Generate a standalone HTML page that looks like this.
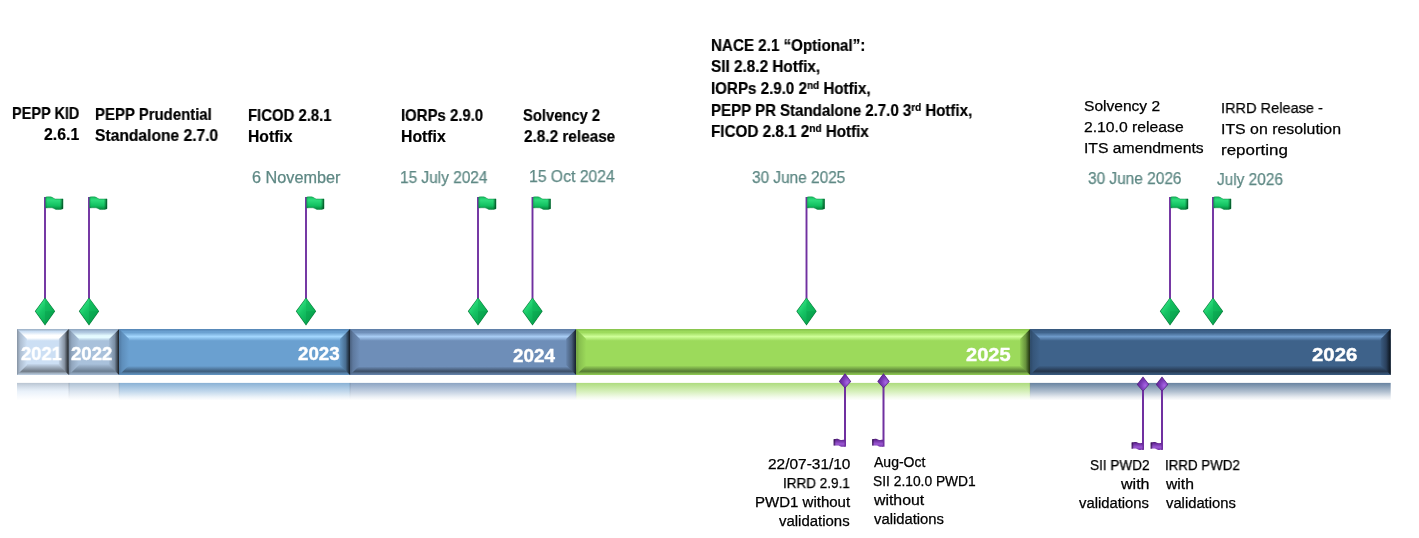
<!DOCTYPE html>
<html><head><meta charset="utf-8"><title>Timeline</title>
<style>
html,body{margin:0;padding:0;background:#fff;}
body{width:1419px;height:538px;position:relative;overflow:hidden;font-family:"Liberation Sans",sans-serif;}
.t{position:absolute;line-height:20px;white-space:nowrap;color:#000;transform-origin:0 0;will-change:transform;}
sup{font-size:0.66em;vertical-align:0.5em;line-height:0}
</style></head><body>
<svg width="1419" height="538" viewBox="0 0 1419 538" style="position:absolute;left:0;top:0">
<defs><linearGradient id="gsep" x1="0" y1="0" x2="0" y2="1"><stop offset="0" stop-color="#203040" stop-opacity="0.12"/><stop offset="1" stop-color="#203040" stop-opacity="0"/></linearGradient><linearGradient id="gv0" x1="0" y1="329.0" x2="0" y2="375.0" gradientUnits="userSpaceOnUse">
<stop offset="0" stop-color="#9AAEC4"/><stop offset="0.0261" stop-color="#AEC2D7"/><stop offset="0.0543" stop-color="#CCDFF4"/><stop offset="0.0587" stop-color="#CCDFF4"/><stop offset="0.1348" stop-color="#FFFFFF"/><stop offset="0.1957" stop-color="#FFFFFF"/><stop offset="0.2565" stop-color="#CCDFF4"/><stop offset="0.7500" stop-color="#CCDFF4"/><stop offset="0.9196" stop-color="#707A86"/><stop offset="0.9674" stop-color="#A5B5C6"/><stop offset="1" stop-color="#BFD1E5"/></linearGradient><linearGradient id="gl0" x1="17.0" y1="0" x2="27.0" y2="0" gradientUnits="userSpaceOnUse">
<stop offset="0" stop-color="#8592A2"/><stop offset="0.3" stop-color="#ACBCCF"/><stop offset="1" stop-color="#CCDFF4"/></linearGradient><linearGradient id="gr0" x1="58.900000000000006" y1="0" x2="68.9" y2="0" gradientUnits="userSpaceOnUse">
<stop offset="0" stop-color="#BED0E4"/><stop offset="0.55" stop-color="#8793A2"/><stop offset="0.85" stop-color="#3A4047"/><stop offset="1" stop-color="#16191D"/></linearGradient><linearGradient id="gf0" x1="0" y1="382.9" x2="0" y2="400.5" gradientUnits="userSpaceOnUse">
<stop offset="0" stop-color="#A3B2C3" stop-opacity="0.77"/><stop offset="0.5" stop-color="#CCDFF4" stop-opacity="0.4"/><stop offset="0.8" stop-color="#CCDFF4" stop-opacity="0.13"/><stop offset="1" stop-color="#CCDFF4" stop-opacity="0"/></linearGradient><linearGradient id="gv1" x1="0" y1="329.0" x2="0" y2="375.0" gradientUnits="userSpaceOnUse">
<stop offset="0" stop-color="#8CA4BE"/><stop offset="0.0261" stop-color="#98B0CA"/><stop offset="0.0543" stop-color="#A9C1DB"/><stop offset="0.0641" stop-color="#A9C1DB"/><stop offset="0.1457" stop-color="#E4FAFF"/><stop offset="0.1848" stop-color="#E4FAFF"/><stop offset="0.2565" stop-color="#A9C1DB"/><stop offset="0.7609" stop-color="#A9C1DB"/><stop offset="0.9196" stop-color="#6B7D91"/><stop offset="0.9674" stop-color="#8FA4BC"/><stop offset="1" stop-color="#A0B7D1"/></linearGradient><linearGradient id="gl1" x1="68.9" y1="0" x2="78.9" y2="0" gradientUnits="userSpaceOnUse">
<stop offset="0" stop-color="#75879C"/><stop offset="0.3" stop-color="#92A7BF"/><stop offset="1" stop-color="#A9C1DB"/></linearGradient><linearGradient id="gr1" x1="109.1" y1="0" x2="119.1" y2="0" gradientUnits="userSpaceOnUse">
<stop offset="0" stop-color="#A0B7D0"/><stop offset="0.55" stop-color="#7A8EA4"/><stop offset="0.85" stop-color="#38414B"/><stop offset="1" stop-color="#16191D"/></linearGradient><linearGradient id="gf1" x1="0" y1="382.9" x2="0" y2="400.5" gradientUnits="userSpaceOnUse">
<stop offset="0" stop-color="#96ADC5" stop-opacity="0.77"/><stop offset="0.5" stop-color="#A9C1DB" stop-opacity="0.4"/><stop offset="0.8" stop-color="#A9C1DB" stop-opacity="0.13"/><stop offset="1" stop-color="#A9C1DB" stop-opacity="0"/></linearGradient><linearGradient id="gv2" x1="0" y1="329.0" x2="0" y2="375.0" gradientUnits="userSpaceOnUse">
<stop offset="0" stop-color="#5585B5"/><stop offset="0.0261" stop-color="#5D90C0"/><stop offset="0.0543" stop-color="#6AA0D0"/><stop offset="0.0739" stop-color="#6AA0D0"/><stop offset="0.1652" stop-color="#A4D8FF"/><stop offset="0.1652" stop-color="#A4D8FF"/><stop offset="0.2565" stop-color="#6AA0D0"/><stop offset="0.8043" stop-color="#6AA0D0"/><stop offset="0.9196" stop-color="#3E5D7C"/><stop offset="0.9674" stop-color="#5884AD"/><stop offset="1" stop-color="#6497C4"/></linearGradient><linearGradient id="gl2" x1="119.1" y1="0" x2="129.1" y2="0" gradientUnits="userSpaceOnUse">
<stop offset="0" stop-color="#4F79A2"/><stop offset="0.3" stop-color="#5E8EBB"/><stop offset="1" stop-color="#6AA0D0"/></linearGradient><linearGradient id="gr2" x1="340.0" y1="0" x2="350.0" y2="0" gradientUnits="userSpaceOnUse">
<stop offset="0" stop-color="#6396C3"/><stop offset="0.55" stop-color="#496E91"/><stop offset="0.85" stop-color="#253648"/><stop offset="1" stop-color="#141C26"/></linearGradient><linearGradient id="gf2" x1="0" y1="382.9" x2="0" y2="400.5" gradientUnits="userSpaceOnUse">
<stop offset="0" stop-color="#6699C8" stop-opacity="0.77"/><stop offset="0.5" stop-color="#6AA0D0" stop-opacity="0.4"/><stop offset="0.8" stop-color="#6AA0D0" stop-opacity="0.13"/><stop offset="1" stop-color="#6AA0D0" stop-opacity="0"/></linearGradient><linearGradient id="gv3" x1="0" y1="329.0" x2="0" y2="375.0" gradientUnits="userSpaceOnUse">
<stop offset="0" stop-color="#5E7DA6"/><stop offset="0.0261" stop-color="#6484AD"/><stop offset="0.0543" stop-color="#6E8EB8"/><stop offset="0.0739" stop-color="#6E8EB8"/><stop offset="0.1652" stop-color="#A9CDF5"/><stop offset="0.1652" stop-color="#A9CDF5"/><stop offset="0.2565" stop-color="#6E8EB8"/><stop offset="0.8152" stop-color="#6E8EB8"/><stop offset="0.9196" stop-color="#3C4E66"/><stop offset="0.9674" stop-color="#597396"/><stop offset="1" stop-color="#6785AD"/></linearGradient><linearGradient id="gl3" x1="350.0" y1="0" x2="360.0" y2="0" gradientUnits="userSpaceOnUse">
<stop offset="0" stop-color="#4A607E"/><stop offset="0.3" stop-color="#5E799E"/><stop offset="1" stop-color="#6E8EB8"/></linearGradient><linearGradient id="gr3" x1="566.2" y1="0" x2="576.2" y2="0" gradientUnits="userSpaceOnUse">
<stop offset="0" stop-color="#6684AC"/><stop offset="0.55" stop-color="#485E7A"/><stop offset="0.85" stop-color="#243041"/><stop offset="1" stop-color="#141C28"/></linearGradient><linearGradient id="gf3" x1="0" y1="382.9" x2="0" y2="400.5" gradientUnits="userSpaceOnUse">
<stop offset="0" stop-color="#6988B0" stop-opacity="0.77"/><stop offset="0.5" stop-color="#6E8EB8" stop-opacity="0.4"/><stop offset="0.8" stop-color="#6E8EB8" stop-opacity="0.13"/><stop offset="1" stop-color="#6E8EB8" stop-opacity="0"/></linearGradient><linearGradient id="gv4" x1="0" y1="329.0" x2="0" y2="375.0" gradientUnits="userSpaceOnUse">
<stop offset="0" stop-color="#86C24C"/><stop offset="0.0261" stop-color="#8FCC52"/><stop offset="0.0543" stop-color="#9CDA5B"/><stop offset="0.0739" stop-color="#9CDA5B"/><stop offset="0.1652" stop-color="#CFFF98"/><stop offset="0.1652" stop-color="#CFFF98"/><stop offset="0.2565" stop-color="#9CDA5B"/><stop offset="0.7935" stop-color="#9CDA5B"/><stop offset="0.9196" stop-color="#557A33"/><stop offset="0.9674" stop-color="#7EB24A"/><stop offset="1" stop-color="#92CD55"/></linearGradient><linearGradient id="gl4" x1="576.2" y1="0" x2="586.2" y2="0" gradientUnits="userSpaceOnUse">
<stop offset="0" stop-color="#6E9E3E"/><stop offset="0.3" stop-color="#87BF4E"/><stop offset="1" stop-color="#9CDA5B"/></linearGradient><linearGradient id="gr4" x1="1020.0999999999999" y1="0" x2="1030.1" y2="0" gradientUnits="userSpaceOnUse">
<stop offset="0" stop-color="#91CC55"/><stop offset="0.55" stop-color="#67923D"/><stop offset="0.85" stop-color="#344E1E"/><stop offset="1" stop-color="#1E3010"/></linearGradient><linearGradient id="gf4" x1="0" y1="382.9" x2="0" y2="400.5" gradientUnits="userSpaceOnUse">
<stop offset="0" stop-color="#95D057" stop-opacity="0.77"/><stop offset="0.5" stop-color="#9CDA5B" stop-opacity="0.4"/><stop offset="0.8" stop-color="#9CDA5B" stop-opacity="0.13"/><stop offset="1" stop-color="#9CDA5B" stop-opacity="0"/></linearGradient><linearGradient id="gv5" x1="0" y1="329.0" x2="0" y2="375.0" gradientUnits="userSpaceOnUse">
<stop offset="0" stop-color="#36577C"/><stop offset="0.0261" stop-color="#395B82"/><stop offset="0.0543" stop-color="#3E628A"/><stop offset="0.0739" stop-color="#3E628A"/><stop offset="0.1652" stop-color="#6E9ACA"/><stop offset="0.1652" stop-color="#6E9ACA"/><stop offset="0.2565" stop-color="#3E628A"/><stop offset="0.7935" stop-color="#3E628A"/><stop offset="0.9196" stop-color="#24354C"/><stop offset="0.9674" stop-color="#334F70"/><stop offset="1" stop-color="#3A5C81"/></linearGradient><linearGradient id="gl5" x1="1030.1" y1="0" x2="1040.1" y2="0" gradientUnits="userSpaceOnUse">
<stop offset="0" stop-color="#2C4866"/><stop offset="0.3" stop-color="#36567A"/><stop offset="1" stop-color="#3E628A"/></linearGradient><linearGradient id="gr5" x1="1380.7" y1="0" x2="1390.7" y2="0" gradientUnits="userSpaceOnUse">
<stop offset="0" stop-color="#3A5B81"/><stop offset="0.55" stop-color="#2A405C"/><stop offset="0.85" stop-color="#14202F"/><stop offset="1" stop-color="#0A121C"/></linearGradient><linearGradient id="gf5" x1="0" y1="382.9" x2="0" y2="400.5" gradientUnits="userSpaceOnUse">
<stop offset="0" stop-color="#3B5E84" stop-opacity="0.77"/><stop offset="0.5" stop-color="#3E628A" stop-opacity="0.4"/><stop offset="0.8" stop-color="#3E628A" stop-opacity="0.13"/><stop offset="1" stop-color="#3E628A" stop-opacity="0"/></linearGradient><linearGradient id="flagG" x1="0" y1="0" x2="0" y2="1">
<stop offset="0" stop-color="#18C060"/><stop offset="0.25" stop-color="#2EDC7C"/><stop offset="0.7" stop-color="#12C060"/><stop offset="1" stop-color="#06803A"/></linearGradient><linearGradient id="flagGe" x1="0" y1="0" x2="1" y2="0">
<stop offset="0" stop-color="#004A20" stop-opacity="0.15"/><stop offset="0.12" stop-color="#004A20" stop-opacity="0"/><stop offset="0.82" stop-color="#004A20" stop-opacity="0"/><stop offset="1" stop-color="#003A18" stop-opacity="0.8"/></linearGradient><linearGradient id="flagP" x1="0" y1="0" x2="0" y2="1">
<stop offset="0" stop-color="#7434A8"/><stop offset="0.35" stop-color="#9C58D4"/><stop offset="0.8" stop-color="#6A2C9C"/><stop offset="1" stop-color="#4A1870"/></linearGradient><linearGradient id="flagPe" x1="0" y1="0" x2="1" y2="0">
<stop offset="0" stop-color="#1E0830" stop-opacity="0.1"/><stop offset="0.1" stop-color="#1E0830" stop-opacity="0"/><stop offset="0.8" stop-color="#1E0830" stop-opacity="0"/><stop offset="1" stop-color="#1E0830" stop-opacity="0.85"/></linearGradient><linearGradient id="dmG" x1="0.2" y1="0.2" x2="0.8" y2="0.85">
<stop offset="0" stop-color="#2EE07E"/><stop offset="0.35" stop-color="#16C464"/><stop offset="0.7" stop-color="#0EB258"/><stop offset="1" stop-color="#08A04A"/></linearGradient><radialGradient id="dmP" cx="0.7" cy="0.62" r="0.6">
<stop offset="0" stop-color="#A866E6"/><stop offset="0.6" stop-color="#7C3CB8"/><stop offset="1" stop-color="#6A2CA0"/></radialGradient><linearGradient id="rfg" x1="0" y1="382.9" x2="0" y2="400.5" gradientUnits="userSpaceOnUse"><stop offset="0" stop-color="#fff" stop-opacity="0.62"/><stop offset="0.5" stop-color="#fff" stop-opacity="0.3"/><stop offset="1" stop-color="#fff" stop-opacity="0"/></linearGradient>
<mask id="rfm" maskUnits="userSpaceOnUse" x="0" y="382" width="1419" height="20"><rect x="0" y="382.6" width="1419" height="18.4" fill="url(#rfg)"/></mask></defs>
<rect x="17.0" y="382.9" width="51.9" height="17.6" fill="url(#gf0)"/><rect x="68.9" y="382.9" width="50.2" height="17.6" fill="url(#gf1)"/><rect x="68.1" y="382.9" width="1.6" height="16" fill="url(#gsep)"/><rect x="119.1" y="382.9" width="230.9" height="17.6" fill="url(#gf2)"/><rect x="118.3" y="382.9" width="1.6" height="16" fill="url(#gsep)"/><rect x="350.0" y="382.9" width="226.2" height="17.6" fill="url(#gf3)"/><rect x="349.2" y="382.9" width="1.6" height="16" fill="url(#gsep)"/><rect x="576.2" y="382.9" width="453.9" height="17.6" fill="url(#gf4)"/><rect x="575.4" y="382.9" width="1.6" height="16" fill="url(#gsep)"/><rect x="1030.1" y="382.9" width="360.6" height="17.6" fill="url(#gf5)"/><rect x="1029.3" y="382.9" width="1.6" height="16" fill="url(#gsep)"/>
<rect x="17.0" y="329.0" width="51.9" height="46.0" fill="url(#gv0)"/><polygon points="17.0,329.0 27,339.0 27,365.0 17.0,375.0" fill="url(#gl0)"/><polygon points="68.9,329.0 58.9,339.0 58.9,365.0 68.9,375.0" fill="url(#gr0)"/><rect x="68.9" y="329.0" width="50.2" height="46.0" fill="url(#gv1)"/><polygon points="68.9,329.0 78.9,339.0 78.9,365.0 68.9,375.0" fill="url(#gl1)"/><polygon points="119.1,329.0 109.1,339.0 109.1,365.0 119.1,375.0" fill="url(#gr1)"/><rect x="119.1" y="329.0" width="230.9" height="46.0" fill="url(#gv2)"/><polygon points="119.1,329.0 129.1,339.0 129.1,365.0 119.1,375.0" fill="url(#gl2)"/><polygon points="350.0,329.0 340,339.0 340,365.0 350.0,375.0" fill="url(#gr2)"/><rect x="350.0" y="329.0" width="226.2" height="46.0" fill="url(#gv3)"/><polygon points="350.0,329.0 360,339.0 360,365.0 350.0,375.0" fill="url(#gl3)"/><polygon points="576.2,329.0 566.2,339.0 566.2,365.0 576.2,375.0" fill="url(#gr3)"/><rect x="576.2" y="329.0" width="453.9" height="46.0" fill="url(#gv4)"/><polygon points="576.2,329.0 586.2,339.0 586.2,365.0 576.2,375.0" fill="url(#gl4)"/><polygon points="1030.1,329.0 1020.1,339.0 1020.1,365.0 1030.1,375.0" fill="url(#gr4)"/><rect x="1030.1" y="329.0" width="360.6" height="46.0" fill="url(#gv5)"/><polygon points="1030.1,329.0 1040.1,339.0 1040.1,365.0 1030.1,375.0" fill="url(#gl5)"/><polygon points="1390.7,329.0 1380.7,339.0 1380.7,365.0 1390.7,375.0" fill="url(#gr5)"/>
<rect x="44.05" y="197" width="1.9" height="102" fill="#7030A0"/><g transform="translate(44.9,197)"><path d="M0.8,0.1 C3,-0.2 5.8,-0.3 7.2,0.3 C8.5,0.9 9,1.8 10.4,2 C13,2.2 15.5,2.0 18.1,1.9 L18.1,11.7 C16,12.5 13,12.8 11,12.4 C9.3,12 8.8,10.9 7,10.8 C5,10.6 3,10.8 0.8,10.9 Z" fill="url(#flagG)" stroke="#0A8A44" stroke-width="0.5"/><path d="M0.8,0.1 C3,-0.2 5.8,-0.3 7.2,0.3 C8.5,0.9 9,1.8 10.4,2 C13,2.2 15.5,2.0 18.1,1.9 L18.1,11.7 C16,12.5 13,12.8 11,12.4 C9.3,12 8.8,10.9 7,10.8 C5,10.6 3,10.8 0.8,10.9 Z" fill="url(#flagGe)"/></g><polygon points="45,297.5 55.15,311.3 45,325.4 34.85,311.3" fill="#067A38"/><polygon points="45,298.3 54.35,311.3 45,324.6 35.65,311.3" fill="url(#dmG)"/><polygon points="45,298.3 54.35,311.3 45,311.3" fill="#0EB458" fill-opacity="0.55"/><polygon points="45,324.6 54.35,311.3 45,311.3" fill="#08A04C" fill-opacity="0.5"/><rect x="88.05" y="197" width="1.9" height="102" fill="#7030A0"/><g transform="translate(88.9,197)"><path d="M0.8,0.1 C3,-0.2 5.8,-0.3 7.2,0.3 C8.5,0.9 9,1.8 10.4,2 C13,2.2 15.5,2.0 18.1,1.9 L18.1,11.7 C16,12.5 13,12.8 11,12.4 C9.3,12 8.8,10.9 7,10.8 C5,10.6 3,10.8 0.8,10.9 Z" fill="url(#flagG)" stroke="#0A8A44" stroke-width="0.5"/><path d="M0.8,0.1 C3,-0.2 5.8,-0.3 7.2,0.3 C8.5,0.9 9,1.8 10.4,2 C13,2.2 15.5,2.0 18.1,1.9 L18.1,11.7 C16,12.5 13,12.8 11,12.4 C9.3,12 8.8,10.9 7,10.8 C5,10.6 3,10.8 0.8,10.9 Z" fill="url(#flagGe)"/></g><polygon points="89,297.5 99.15,311.3 89,325.4 78.85,311.3" fill="#067A38"/><polygon points="89,298.3 98.35,311.3 89,324.6 79.65,311.3" fill="url(#dmG)"/><polygon points="89,298.3 98.35,311.3 89,311.3" fill="#0EB458" fill-opacity="0.55"/><polygon points="89,324.6 98.35,311.3 89,311.3" fill="#08A04C" fill-opacity="0.5"/><rect x="305.05" y="197" width="1.9" height="102" fill="#7030A0"/><g transform="translate(305.9,197)"><path d="M0.8,0.1 C3,-0.2 5.8,-0.3 7.2,0.3 C8.5,0.9 9,1.8 10.4,2 C13,2.2 15.5,2.0 18.1,1.9 L18.1,11.7 C16,12.5 13,12.8 11,12.4 C9.3,12 8.8,10.9 7,10.8 C5,10.6 3,10.8 0.8,10.9 Z" fill="url(#flagG)" stroke="#0A8A44" stroke-width="0.5"/><path d="M0.8,0.1 C3,-0.2 5.8,-0.3 7.2,0.3 C8.5,0.9 9,1.8 10.4,2 C13,2.2 15.5,2.0 18.1,1.9 L18.1,11.7 C16,12.5 13,12.8 11,12.4 C9.3,12 8.8,10.9 7,10.8 C5,10.6 3,10.8 0.8,10.9 Z" fill="url(#flagGe)"/></g><polygon points="306,297.5 316.15,311.3 306,325.4 295.85,311.3" fill="#067A38"/><polygon points="306,298.3 315.35,311.3 306,324.6 296.65,311.3" fill="url(#dmG)"/><polygon points="306,298.3 315.35,311.3 306,311.3" fill="#0EB458" fill-opacity="0.55"/><polygon points="306,324.6 315.35,311.3 306,311.3" fill="#08A04C" fill-opacity="0.5"/><rect x="477.05" y="197" width="1.9" height="102" fill="#7030A0"/><g transform="translate(477.9,197)"><path d="M0.8,0.1 C3,-0.2 5.8,-0.3 7.2,0.3 C8.5,0.9 9,1.8 10.4,2 C13,2.2 15.5,2.0 18.1,1.9 L18.1,11.7 C16,12.5 13,12.8 11,12.4 C9.3,12 8.8,10.9 7,10.8 C5,10.6 3,10.8 0.8,10.9 Z" fill="url(#flagG)" stroke="#0A8A44" stroke-width="0.5"/><path d="M0.8,0.1 C3,-0.2 5.8,-0.3 7.2,0.3 C8.5,0.9 9,1.8 10.4,2 C13,2.2 15.5,2.0 18.1,1.9 L18.1,11.7 C16,12.5 13,12.8 11,12.4 C9.3,12 8.8,10.9 7,10.8 C5,10.6 3,10.8 0.8,10.9 Z" fill="url(#flagGe)"/></g><polygon points="478,297.5 488.15,311.3 478,325.4 467.85,311.3" fill="#067A38"/><polygon points="478,298.3 487.35,311.3 478,324.6 468.65,311.3" fill="url(#dmG)"/><polygon points="478,298.3 487.35,311.3 478,311.3" fill="#0EB458" fill-opacity="0.55"/><polygon points="478,324.6 487.35,311.3 478,311.3" fill="#08A04C" fill-opacity="0.5"/><rect x="531.55" y="197" width="1.9" height="102" fill="#7030A0"/><g transform="translate(532.4,197)"><path d="M0.8,0.1 C3,-0.2 5.8,-0.3 7.2,0.3 C8.5,0.9 9,1.8 10.4,2 C13,2.2 15.5,2.0 18.1,1.9 L18.1,11.7 C16,12.5 13,12.8 11,12.4 C9.3,12 8.8,10.9 7,10.8 C5,10.6 3,10.8 0.8,10.9 Z" fill="url(#flagG)" stroke="#0A8A44" stroke-width="0.5"/><path d="M0.8,0.1 C3,-0.2 5.8,-0.3 7.2,0.3 C8.5,0.9 9,1.8 10.4,2 C13,2.2 15.5,2.0 18.1,1.9 L18.1,11.7 C16,12.5 13,12.8 11,12.4 C9.3,12 8.8,10.9 7,10.8 C5,10.6 3,10.8 0.8,10.9 Z" fill="url(#flagGe)"/></g><polygon points="532.5,297.5 542.65,311.3 532.5,325.4 522.35,311.3" fill="#067A38"/><polygon points="532.5,298.3 541.85,311.3 532.5,324.6 523.15,311.3" fill="url(#dmG)"/><polygon points="532.5,298.3 541.85,311.3 532.5,311.3" fill="#0EB458" fill-opacity="0.55"/><polygon points="532.5,324.6 541.85,311.3 532.5,311.3" fill="#08A04C" fill-opacity="0.5"/><rect x="805.55" y="197" width="1.9" height="102" fill="#7030A0"/><g transform="translate(806.4,197)"><path d="M0.8,0.1 C3,-0.2 5.8,-0.3 7.2,0.3 C8.5,0.9 9,1.8 10.4,2 C13,2.2 15.5,2.0 18.1,1.9 L18.1,11.7 C16,12.5 13,12.8 11,12.4 C9.3,12 8.8,10.9 7,10.8 C5,10.6 3,10.8 0.8,10.9 Z" fill="url(#flagG)" stroke="#0A8A44" stroke-width="0.5"/><path d="M0.8,0.1 C3,-0.2 5.8,-0.3 7.2,0.3 C8.5,0.9 9,1.8 10.4,2 C13,2.2 15.5,2.0 18.1,1.9 L18.1,11.7 C16,12.5 13,12.8 11,12.4 C9.3,12 8.8,10.9 7,10.8 C5,10.6 3,10.8 0.8,10.9 Z" fill="url(#flagGe)"/></g><polygon points="806.5,297.5 816.65,311.3 806.5,325.4 796.35,311.3" fill="#067A38"/><polygon points="806.5,298.3 815.85,311.3 806.5,324.6 797.15,311.3" fill="url(#dmG)"/><polygon points="806.5,298.3 815.85,311.3 806.5,311.3" fill="#0EB458" fill-opacity="0.55"/><polygon points="806.5,324.6 815.85,311.3 806.5,311.3" fill="#08A04C" fill-opacity="0.5"/><rect x="1169.05" y="197" width="1.9" height="102" fill="#7030A0"/><g transform="translate(1169.9,197)"><path d="M0.8,0.1 C3,-0.2 5.8,-0.3 7.2,0.3 C8.5,0.9 9,1.8 10.4,2 C13,2.2 15.5,2.0 18.1,1.9 L18.1,11.7 C16,12.5 13,12.8 11,12.4 C9.3,12 8.8,10.9 7,10.8 C5,10.6 3,10.8 0.8,10.9 Z" fill="url(#flagG)" stroke="#0A8A44" stroke-width="0.5"/><path d="M0.8,0.1 C3,-0.2 5.8,-0.3 7.2,0.3 C8.5,0.9 9,1.8 10.4,2 C13,2.2 15.5,2.0 18.1,1.9 L18.1,11.7 C16,12.5 13,12.8 11,12.4 C9.3,12 8.8,10.9 7,10.8 C5,10.6 3,10.8 0.8,10.9 Z" fill="url(#flagGe)"/></g><polygon points="1170,297.5 1180.15,311.3 1170,325.4 1159.85,311.3" fill="#067A38"/><polygon points="1170,298.3 1179.35,311.3 1170,324.6 1160.65,311.3" fill="url(#dmG)"/><polygon points="1170,298.3 1179.35,311.3 1170,311.3" fill="#0EB458" fill-opacity="0.55"/><polygon points="1170,324.6 1179.35,311.3 1170,311.3" fill="#08A04C" fill-opacity="0.5"/><rect x="1212.05" y="197" width="1.9" height="102" fill="#7030A0"/><g transform="translate(1212.9,197)"><path d="M0.8,0.1 C3,-0.2 5.8,-0.3 7.2,0.3 C8.5,0.9 9,1.8 10.4,2 C13,2.2 15.5,2.0 18.1,1.9 L18.1,11.7 C16,12.5 13,12.8 11,12.4 C9.3,12 8.8,10.9 7,10.8 C5,10.6 3,10.8 0.8,10.9 Z" fill="url(#flagG)" stroke="#0A8A44" stroke-width="0.5"/><path d="M0.8,0.1 C3,-0.2 5.8,-0.3 7.2,0.3 C8.5,0.9 9,1.8 10.4,2 C13,2.2 15.5,2.0 18.1,1.9 L18.1,11.7 C16,12.5 13,12.8 11,12.4 C9.3,12 8.8,10.9 7,10.8 C5,10.6 3,10.8 0.8,10.9 Z" fill="url(#flagGe)"/></g><polygon points="1213,297.5 1223.15,311.3 1213,325.4 1202.85,311.3" fill="#067A38"/><polygon points="1213,298.3 1222.35,311.3 1213,324.6 1203.65,311.3" fill="url(#dmG)"/><polygon points="1213,298.3 1222.35,311.3 1213,311.3" fill="#0EB458" fill-opacity="0.55"/><polygon points="1213,324.6 1222.35,311.3 1213,311.3" fill="#08A04C" fill-opacity="0.5"/><rect x="844" y="383.5" width="2" height="63.2" fill="#7030A0"/><polygon points="845,373.3 851.2,381.4 845,388.3 838.8,381.4" fill="#4E1C7C"/><polygon points="845,374 850.5,381.4 845,387.6 839.5,381.4" fill="url(#dmP)"/><g transform="translate(845.1,446.7) scale(-0.63,-0.63)"><path d="M0.8,0.1 C3,-0.2 5.8,-0.3 7.2,0.3 C8.5,0.9 9,1.8 10.4,2 C13,2.2 15.5,2.0 18.1,1.9 L18.1,11.7 C16,12.5 13,12.8 11,12.4 C9.3,12 8.8,10.9 7,10.8 C5,10.6 3,10.8 0.8,10.9 Z" fill="url(#flagP)"/><path d="M0.8,0.1 C3,-0.2 5.8,-0.3 7.2,0.3 C8.5,0.9 9,1.8 10.4,2 C13,2.2 15.5,2.0 18.1,1.9 L18.1,11.7 C16,12.5 13,12.8 11,12.4 C9.3,12 8.8,10.9 7,10.8 C5,10.6 3,10.8 0.8,10.9 Z" fill="url(#flagPe)"/></g><rect x="882.5" y="383.5" width="2" height="63.2" fill="#7030A0"/><polygon points="883.5,373.3 889.7,381.4 883.5,388.3 877.3,381.4" fill="#4E1C7C"/><polygon points="883.5,374 889,381.4 883.5,387.6 878,381.4" fill="url(#dmP)"/><g transform="translate(883.6,446.7) scale(-0.63,-0.63)"><path d="M0.8,0.1 C3,-0.2 5.8,-0.3 7.2,0.3 C8.5,0.9 9,1.8 10.4,2 C13,2.2 15.5,2.0 18.1,1.9 L18.1,11.7 C16,12.5 13,12.8 11,12.4 C9.3,12 8.8,10.9 7,10.8 C5,10.6 3,10.8 0.8,10.9 Z" fill="url(#flagP)"/><path d="M0.8,0.1 C3,-0.2 5.8,-0.3 7.2,0.3 C8.5,0.9 9,1.8 10.4,2 C13,2.2 15.5,2.0 18.1,1.9 L18.1,11.7 C16,12.5 13,12.8 11,12.4 C9.3,12 8.8,10.9 7,10.8 C5,10.6 3,10.8 0.8,10.9 Z" fill="url(#flagPe)"/></g><rect x="1142" y="386.6" width="2" height="63.3" fill="#7030A0"/><polygon points="1143,376.4 1149.2,384.5 1143,391.4 1136.8,384.5" fill="#4E1C7C"/><polygon points="1143,377.1 1148.5,384.5 1143,390.7 1137.5,384.5" fill="url(#dmP)"/><g transform="translate(1143.1,449.9) scale(-0.63,-0.63)"><path d="M0.8,0.1 C3,-0.2 5.8,-0.3 7.2,0.3 C8.5,0.9 9,1.8 10.4,2 C13,2.2 15.5,2.0 18.1,1.9 L18.1,11.7 C16,12.5 13,12.8 11,12.4 C9.3,12 8.8,10.9 7,10.8 C5,10.6 3,10.8 0.8,10.9 Z" fill="url(#flagP)"/><path d="M0.8,0.1 C3,-0.2 5.8,-0.3 7.2,0.3 C8.5,0.9 9,1.8 10.4,2 C13,2.2 15.5,2.0 18.1,1.9 L18.1,11.7 C16,12.5 13,12.8 11,12.4 C9.3,12 8.8,10.9 7,10.8 C5,10.6 3,10.8 0.8,10.9 Z" fill="url(#flagPe)"/></g><rect x="1161" y="386.6" width="2" height="63.3" fill="#7030A0"/><polygon points="1162,376.4 1168.2,384.5 1162,391.4 1155.8,384.5" fill="#4E1C7C"/><polygon points="1162,377.1 1167.5,384.5 1162,390.7 1156.5,384.5" fill="url(#dmP)"/><g transform="translate(1162.1,449.9) scale(-0.63,-0.63)"><path d="M0.8,0.1 C3,-0.2 5.8,-0.3 7.2,0.3 C8.5,0.9 9,1.8 10.4,2 C13,2.2 15.5,2.0 18.1,1.9 L18.1,11.7 C16,12.5 13,12.8 11,12.4 C9.3,12 8.8,10.9 7,10.8 C5,10.6 3,10.8 0.8,10.9 Z" fill="url(#flagP)"/><path d="M0.8,0.1 C3,-0.2 5.8,-0.3 7.2,0.3 C8.5,0.9 9,1.8 10.4,2 C13,2.2 15.5,2.0 18.1,1.9 L18.1,11.7 C16,12.5 13,12.8 11,12.4 C9.3,12 8.8,10.9 7,10.8 C5,10.6 3,10.8 0.8,10.9 Z" fill="url(#flagPe)"/></g>
</svg>
<div class="t" style="left:12.48px;top:104.2px;font-size:15.7px;font-weight:700;-webkit-text-stroke:0.2px #000000;transform:scaleX(0.9239)">PEPP KID</div>
<div class="t" style="left:43.7px;top:124.8px;font-size:15.7px;font-weight:700;-webkit-text-stroke:0.2px #000000;transform:scaleX(1.0086)">2.6.1</div>
<div class="t" style="left:94.85px;top:104.5px;font-size:15.7px;font-weight:700;-webkit-text-stroke:0.2px #000000;transform:scaleX(0.9521)">PEPP Prudential</div>
<div class="t" style="left:94.8px;top:125.7px;font-size:15.7px;font-weight:700;-webkit-text-stroke:0.2px #000000;transform:scaleX(0.9951)">Standalone 2.7.0</div>
<div class="t" style="left:247.95px;top:105.9px;font-size:15.7px;font-weight:700;-webkit-text-stroke:0.2px #000000;transform:scaleX(0.9483)">FICOD 2.8.1</div>
<div class="t" style="left:247.9px;top:126.6px;font-size:15.7px;font-weight:700;-webkit-text-stroke:0.2px #000000;transform:scaleX(1.0000)">Hotfix</div>
<div class="t" style="left:400.75px;top:105.9px;font-size:15.7px;font-weight:700;-webkit-text-stroke:0.2px #000000;transform:scaleX(0.9518)">IORPs 2.9.0</div>
<div class="t" style="left:400.7px;top:126.6px;font-size:15.7px;font-weight:700;-webkit-text-stroke:0.2px #000000;transform:scaleX(1.0047)">Hotfix</div>
<div class="t" style="left:522.96px;top:105.9px;font-size:15.7px;font-weight:700;-webkit-text-stroke:0.2px #000000;transform:scaleX(0.9395)">Solvency 2</div>
<div class="t" style="left:523.9px;top:126.6px;font-size:15.7px;font-weight:700;-webkit-text-stroke:0.2px #000000;transform:scaleX(0.9774)">2.8.2 release</div>
<div class="t" style="left:710.73px;top:35.9px;font-size:15.7px;font-weight:700;-webkit-text-stroke:0.2px #000000;transform:scaleX(0.9675)">NACE 2.1 “Optional”:</div>
<div class="t" style="left:710.72px;top:56.5px;font-size:15.7px;font-weight:700;-webkit-text-stroke:0.2px #000000;transform:scaleX(0.9773)">SII 2.8.2 Hotfix,</div>
<div class="t" style="left:710.73px;top:78.9px;font-size:15.7px;font-weight:700;-webkit-text-stroke:0.2px #000000;transform:scaleX(0.9652)">IORPs 2.9.0 2<sup>nd</sup> Hotfix,</div>
<div class="t" style="left:710.74px;top:100.8px;font-size:15.7px;font-weight:700;-webkit-text-stroke:0.2px #000000;transform:scaleX(0.9583)">PEPP PR Standalone 2.7.0 3<sup>rd</sup> Hotfix,</div>
<div class="t" style="left:710.73px;top:121.8px;font-size:15.7px;font-weight:700;-webkit-text-stroke:0.2px #000000;transform:scaleX(0.9708)">FICOD 2.8.1 2<sup>nd</sup> Hotfix</div>
<div class="t" style="left:1084.07px;top:95.8px;font-size:15.1px;-webkit-text-stroke:0.25px #000000;transform:scaleX(1.0306)">Solvency 2</div>
<div class="t" style="left:1084.06px;top:116.9px;font-size:15.1px;-webkit-text-stroke:0.25px #000000;transform:scaleX(1.0415)">2.10.0 release</div>
<div class="t" style="left:1084.06px;top:138.2px;font-size:15.1px;-webkit-text-stroke:0.25px #000000;transform:scaleX(1.0412)">ITS amendments</div>
<div class="t" style="left:1220.74px;top:97.8px;font-size:15.1px;-webkit-text-stroke:0.25px #000000;transform:scaleX(0.9635)">IRRD Release -</div>
<div class="t" style="left:1220.65px;top:118.6px;font-size:15.1px;-webkit-text-stroke:0.25px #000000;transform:scaleX(1.0518)">ITS on resolution</div>
<div class="t" style="left:1220.58px;top:140px;font-size:15.1px;-webkit-text-stroke:0.25px #000000;transform:scaleX(1.1224)">reporting</div>
<div class="t" style="left:251.79px;top:166.9px;font-size:16.1px;color:#5E8884;-webkit-text-stroke:0.25px #5E8884;transform:scaleX(1.0092)">6 November</div>
<div class="t" style="left:400.04px;top:166.8px;font-size:16.1px;color:#5E8884;-webkit-text-stroke:0.25px #5E8884;transform:scaleX(0.9589)">15 July 2024</div>
<div class="t" style="left:528.52px;top:166.2px;font-size:16.1px;color:#5E8884;-webkit-text-stroke:0.25px #5E8884;transform:scaleX(0.9779)">15 Oct 2024</div>
<div class="t" style="left:752.14px;top:166.8px;font-size:16.1px;color:#5E8884;-webkit-text-stroke:0.25px #5E8884;transform:scaleX(0.9562)">30 June 2025</div>
<div class="t" style="left:1087.84px;top:168px;font-size:16.1px;color:#5E8884;-webkit-text-stroke:0.25px #5E8884;transform:scaleX(0.9583)">30 June 2026</div>
<div class="t" style="left:1217.2px;top:168.8px;font-size:16.1px;color:#5E8884;-webkit-text-stroke:0.25px #5E8884;transform:scaleX(0.9574)">July 2026</div>
<div class="t" style="left:20.61px;top:344px;font-size:18.6px;font-weight:700;color:#FFFFFF;-webkit-text-stroke:0.4px #fff;transform:scaleX(0.9875)">2021</div>
<div class="t" style="left:71px;top:344px;font-size:18.6px;font-weight:700;color:#FFFFFF;-webkit-text-stroke:0.4px #fff;transform:scaleX(0.9975)">2022</div>
<div class="t" style="left:298.09px;top:343.8px;font-size:18.6px;font-weight:700;color:#FFFFFF;-webkit-text-stroke:0.4px #fff;transform:scaleX(1.0075)">2023</div>
<div class="t" style="left:512.89px;top:345.8px;font-size:18.6px;font-weight:700;color:#FFFFFF;-webkit-text-stroke:0.4px #fff;transform:scaleX(1.0125)">2024</div>
<div class="t" style="left:965.82px;top:345px;font-size:18.6px;font-weight:700;color:#FFFFFF;-webkit-text-stroke:0.4px #fff;transform:scaleX(1.0775)">2025</div>
<div class="t" style="left:1311.5px;top:345px;font-size:18.6px;font-weight:700;color:#FFFFFF;-webkit-text-stroke:0.4px #fff;transform:scaleX(1.0975)">2026</div>
<div class="t" style="left:767.88px;top:455px;font-size:13.8px;-webkit-text-stroke:0.25px #000000;transform:scaleX(1.1194)">22/07-31/10</div>
<div class="t" style="left:783.02px;top:473.9px;font-size:13.8px;-webkit-text-stroke:0.25px #000000;transform:scaleX(0.9791)">IRRD 2.9.1</div>
<div class="t" style="left:754.91px;top:492.6px;font-size:13.8px;-webkit-text-stroke:0.25px #000000;transform:scaleX(1.0884)">PWD1 without</div>
<div class="t" style="left:779.2px;top:511.5px;font-size:13.8px;-webkit-text-stroke:0.25px #000000;transform:scaleX(1.0831)">validations</div>
<div class="t" style="left:873.7px;top:452.6px;font-size:13.8px;-webkit-text-stroke:0.25px #000000;transform:scaleX(1.0157)">Aug-Oct</div>
<div class="t" style="left:872.7px;top:471.5px;font-size:13.8px;-webkit-text-stroke:0.25px #000000;transform:scaleX(1.0000)">SII 2.10.0 PWD1</div>
<div class="t" style="left:873.7px;top:490.5px;font-size:13.8px;-webkit-text-stroke:0.25px #000000;transform:scaleX(1.1477)">without</div>
<div class="t" style="left:873.7px;top:510.2px;font-size:13.8px;-webkit-text-stroke:0.25px #000000;transform:scaleX(1.0738)">validations</div>
<div class="t" style="left:1089.82px;top:455.8px;font-size:13.8px;-webkit-text-stroke:0.25px #000000;transform:scaleX(0.9814)">SII PWD2</div>
<div class="t" style="left:1120.8px;top:474.8px;font-size:13.8px;-webkit-text-stroke:0.25px #000000;transform:scaleX(1.1625)">with</div>
<div class="t" style="left:1078.9px;top:493.5px;font-size:13.8px;-webkit-text-stroke:0.25px #000000;transform:scaleX(1.0738)">validations</div>
<div class="t" style="left:1164.73px;top:455.8px;font-size:13.8px;-webkit-text-stroke:0.25px #000000;transform:scaleX(0.9671)">IRRD PWD2</div>
<div class="t" style="left:1165.7px;top:474.8px;font-size:13.8px;-webkit-text-stroke:0.25px #000000;transform:scaleX(1.1375)">with</div>
<div class="t" style="left:1165.7px;top:493.5px;font-size:13.8px;-webkit-text-stroke:0.25px #000000;transform:scaleX(1.0708)">validations</div>
</body></html>
